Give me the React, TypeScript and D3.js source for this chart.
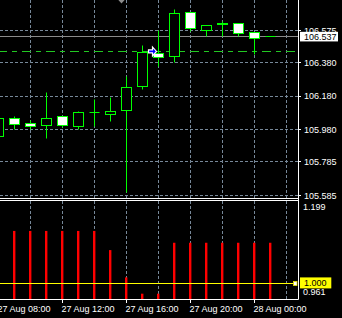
import React, { useEffect } from 'react';
import * as d3 from 'd3';

// ---- data ----
const candleTimes = [
  '2019-08-27T08:00', '2019-08-27T09:00', '2019-08-27T10:00', '2019-08-27T11:00',
  '2019-08-27T12:00', '2019-08-27T13:00', '2019-08-27T14:00', '2019-08-27T15:00',
  '2019-08-27T16:00', '2019-08-27T17:00', '2019-08-27T18:00', '2019-08-27T19:00',
  '2019-08-27T20:00', '2019-08-27T21:00', '2019-08-27T22:00', '2019-08-27T23:00',
  '2019-08-28T00:00', '2019-08-28T01:00',
];
const opens = [105.937, 106.043, 106.013, 106.003, 106.059, 105.997, 106.083, 106.069, 106.095, 106.237, 106.437, 106.417, 106.683, 106.574, 106.616, 106.613, 106.559, 106.537];
const highs = [106.055, 106.055, 106.033, 106.199, 106.059, 106.089, 106.157, 106.169, 106.297, 106.481, 106.571, 106.697, 106.683, 106.606, 106.625, 106.613, 106.559, 106.537];
const lows = [105.929, 105.980, 105.980, 105.925, 105.993, 105.981, 105.999, 106.027, 105.602, 106.217, 106.355, 106.379, 106.568, 106.537, 106.537, 106.537, 106.430, 106.537];
const closes = [106.047, 106.009, 105.997, 106.047, 106.003, 106.083, 106.083, 106.089, 106.229, 106.439, 106.413, 106.677, 106.586, 106.606, 106.611, 106.557, 106.525, 106.537];
const indicatorValues = [1.128, 1.128, 1.128, 1.128, 1.128, 1.128, 1.128, 1.081, 1.014, 0.974, 0.974, 1.099, 1.099, 1.099, 1.099, 1.099, 1.099, 1.099];

const priceTicks = [106.575, 106.38, 106.18, 105.98, 105.785, 105.585];
const currentPrice = 106.537;
const dashedLevel = 106.448;
const indicatorMax = 1.199;
const indicatorMin = 0.961;
const indicatorLevel = 1.0;
const timeLabelTimes = ['2019-08-27T08:00', '2019-08-27T12:00', '2019-08-27T16:00', '2019-08-27T20:00', '2019-08-28T00:00'];
const buyArrowTime = '2019-08-27T18:00';
const buyArrowPrice = 106.448;

const parse = (s: string) => {
  const [d, t] = s.split('T');
  const [y, m, dd] = d.split('-').map(Number);
  const [h, mi] = t.split(':').map(Number);
  return new Date(y, m - 1, dd, h, mi);
};

const W = 342;
const H = 318;
const right = 298.5;
const FONT = '"Liberation Sans", Arial, sans-serif';
const GRID = '#778899';
const LIME = '#00ff00';

export default function App() {
  useEffect(() => {
    document.body.style.margin = '0';
    document.body.style.background = '#000';
  }, []);

  const dates = candleTimes.map(parse);
  const x = d3.scaleTime().domain([dates[0], dates[dates.length - 1]]).range([-1.5, 270.5]);
  const y = d3.scaleLinear().domain([105.585, 106.575]).range([195.3, 30.3]);
  const yi = d3.scaleLinear().domain([indicatorMin, indicatorMax]).range([299, 202]);
  const snap = (v: number) => Math.floor(v) + 0.5;

  const gridTimes = d3.timeHour.every(2)!.range(dates[0], d3.timeHour.offset(dates[dates.length - 1], 2));
  const labelDates = timeLabelTimes.map(parse);
  const fmt = d3.timeFormat('%d %b %H:%M');

  const ax = x(parse(buyArrowTime)) - 6;
  const ay = y(buyArrowPrice);

  return (
    <svg width={W} height={H} style={{ display: 'block', background: '#000' }}>
      <rect x={0} y={0} width={W} height={H} fill="#000" />
      <defs>
        <clipPath id="mainClip"><rect x={0} y={0} width={298} height={198} /></clipPath>
        <clipPath id="indClip"><rect x={0} y={201} width={298} height={98} /></clipPath>
      </defs>

      {/* main grid */}
      <g stroke={GRID} strokeWidth={1} strokeDasharray="3,2" fill="none">
        {priceTicks.map((p) => (
          <line key={'h' + p} x1={0} x2={right} y1={snap(y(p))} y2={snap(y(p))} />
        ))}
        {gridTimes.map((t) => (
          <line key={'v' + +t} x1={x(t)} x2={x(t)} y1={0} y2={198} />
        ))}
        {gridTimes.map((t) => (
          <line key={'vi' + +t} x1={x(t)} x2={x(t)} y1={201} y2={299} />
        ))}
      </g>

      {/* levels */}
      <g clipPath="url(#mainClip)">
        <line x1={-2} x2={296} y1={snap(y(dashedLevel))} y2={snap(y(dashedLevel))} stroke="#22c822" strokeWidth={1} strokeDasharray="9,5,5,5" />
        <line x1={0} x2={right} y1={snap(y(currentPrice))} y2={snap(y(currentPrice))} stroke="#8a8a8a" strokeWidth={1} />

        {/* candles */}
        {dates.map((d, i) => {
          const cx = x(d);
          const o = opens[i], c = closes[i], h = highs[i], l = lows[i];
          const top = snap(y(Math.max(o, c)));
          const bot = snap(y(Math.min(o, c)));
          const bull = c > o;
          return (
            <g key={i}>
              <line x1={cx} x2={cx} y1={snap(y(h))} y2={snap(y(l))} stroke={LIME} strokeWidth={1} />
              {top === bot ? (
                <line x1={cx - 5} x2={cx + 5} y1={top} y2={top} stroke={LIME} strokeWidth={1} />
              ) : (
                <rect x={cx - 5} y={top} width={10} height={bot - top} fill={bull ? '#000' : '#fff'} stroke={LIME} strokeWidth={1} />
              )}
            </g>
          );
        })}

        {/* trade arrows */}
        <path
          d={`M${ax - 4},${ay - 1.5} L${ax},${ay - 1.5} L${ax},${ay - 4.5} L${ax + 4},${ay} L${ax},${ay + 4.5} L${ax},${ay + 1.5} L${ax - 4},${ay + 1.5} Z`}
          fill="#0000ff" stroke="#fff" strokeWidth={1.2}
        />
        <path d={`M${x(parse('2019-08-27T15:00')) + 7},-1 L${x(parse('2019-08-27T15:00')) + 15},-1 L${x(parse('2019-08-27T15:00')) + 11},3.5 Z`} fill="#8c8c8c" />
      </g>

      {/* indicator bars */}
      <g clipPath="url(#indClip)">
        {dates.map((d, i) => (
          <rect key={i} x={x(d) - 1.5} y={yi(indicatorValues[i])} width={2.4} height={299 - yi(indicatorValues[i])} fill="#ff0000" />
        ))}
        <line x1={0} x2={293.5} y1={snap(yi(indicatorLevel))} y2={snap(yi(indicatorLevel))} stroke="#ffff00" strokeWidth={1} />
      </g>
      <rect x={293.5} y={snap(yi(indicatorLevel)) - 2} width={3.5} height={4} fill="#fff" stroke="#e8e800" strokeWidth={0.8} />

      {/* borders */}
      <g stroke="#fff" strokeWidth={1}>
        <line x1={0} x2={right} y1={198.5} y2={198.5} />
        <line x1={0} x2={right} y1={200.5} y2={200.5} />
        <line x1={0} x2={right} y1={299.5} y2={299.5} />
        <line x1={right} x2={right} y1={0} y2={299.5} />
        {priceTicks.map((p) => (
          <line key={'t' + p} x1={right} x2={301} y1={snap(y(p))} y2={snap(y(p))} />
        ))}
        {labelDates.map((t) => (
          <line key={'tt' + +t} x1={x(t)} x2={x(t)} y1={299.5} y2={303} />
        ))}
      </g>

      {/* price labels */}
      <g fontFamily={FONT} fontSize={9} fill="#fff">
        {priceTicks.map((p) => (
          <text key={'l' + p} x={304} y={y(p) + 3.2}>{p.toFixed(3)}</text>
        ))}
        <text x={303} y={210}>{indicatorMax.toFixed(3)}</text>
        <text x={303} y={295}>{indicatorMin.toFixed(3)}</text>
        {labelDates.map((t) => (
          <text key={'x' + +t} x={x(t) - 1} y={312}>{fmt(t)}</text>
        ))}
      </g>

      {/* current price box */}
      <rect x={300} y={y(currentPrice) - 4.8} width={38} height={9.6} fill="#fff" />
      <text x={304} y={y(currentPrice) + 3.2} fontFamily={FONT} fontSize={9} fill="#000">{currentPrice.toFixed(3)}</text>

      {/* indicator level box */}
      <rect x={300} y={yi(indicatorLevel) - 5.7} width={31.3} height={11} fill="#ffff00" />
      <text x={304} y={yi(indicatorLevel) + 3.2} fontFamily={FONT} fontSize={9} fill="#000">{indicatorLevel.toFixed(3)}</text>
    </svg>
  );
}
